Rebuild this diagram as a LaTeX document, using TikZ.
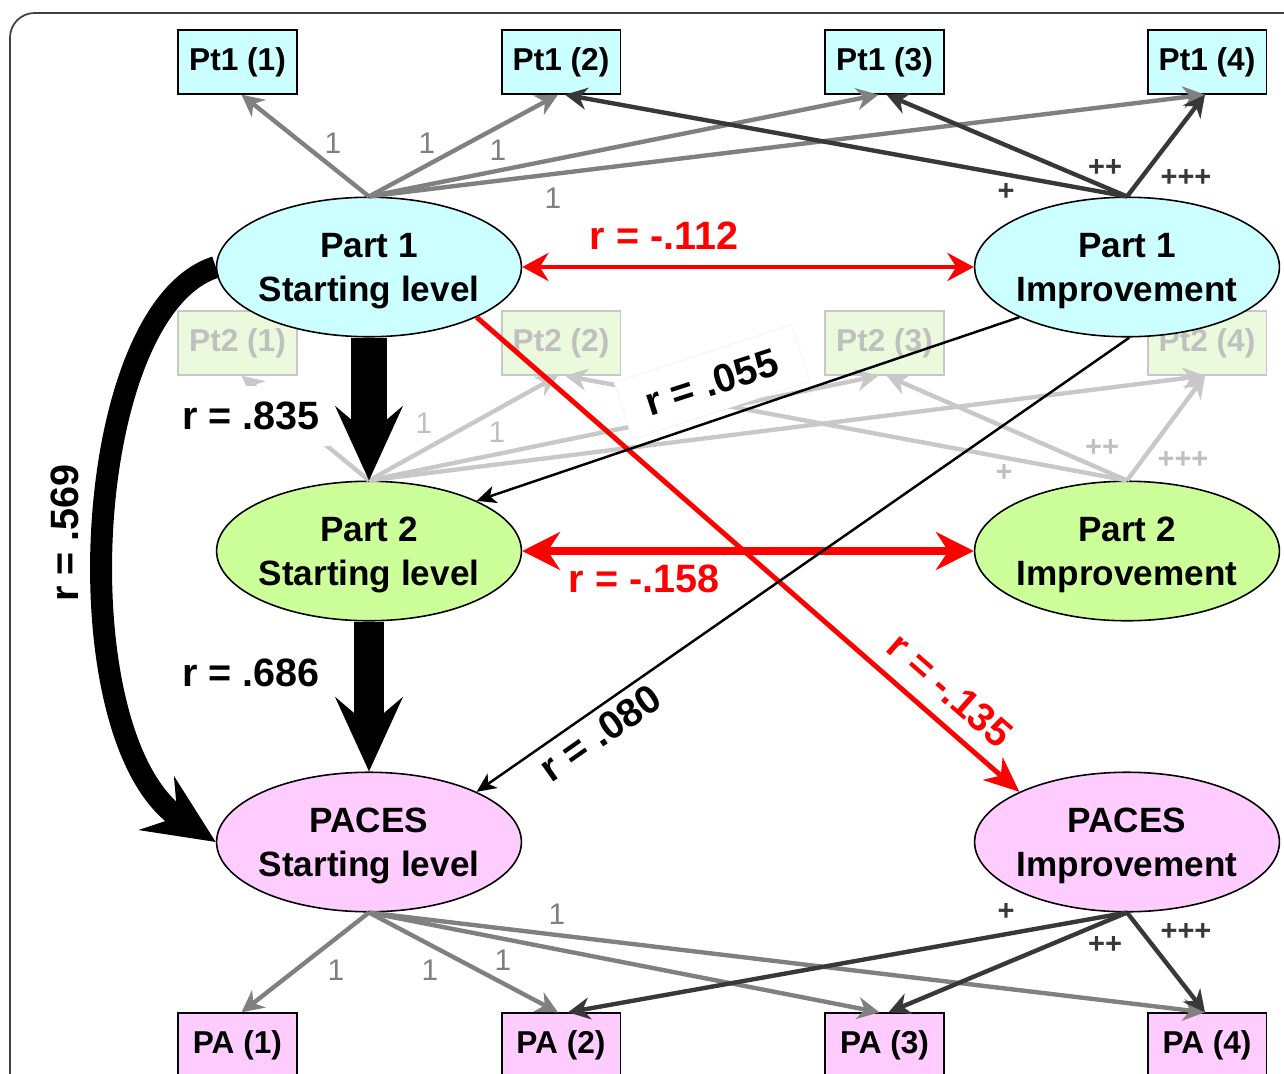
\documentclass[tikz,border=0pt]{standalone}
\usepackage{fontspec}
\setmainfont{Liberation Sans}
\usetikzlibrary{shapes.geometric,arrows.meta,calc}
\definecolor{cyanf}{HTML}{CCFFFF}
\definecolor{greenf}{HTML}{CCFF99}
\definecolor{pinkf}{HTML}{FFCCFF}
\definecolor{fadef}{HTML}{EBFADC}
\definecolor{fadeb}{HTML}{C8C8C8}
\definecolor{fadet}{HTML}{C0C0C0}
\definecolor{midg}{HTML}{808080}
\definecolor{darkg}{HTML}{383838}
\definecolor{redc}{HTML}{FF0000}
\begin{document}
\begin{tikzpicture}[x=0.02cm,y=-0.02cm,
 box/.style={draw, line width=0.9pt, minimum width=67.5pt, minimum height=36.3pt, inner sep=0pt, font=\fontsize{18}{20}\selectfont\bfseries},
 fbox/.style={box, draw=fadeb, fill=fadef, text=fadet},
 ell/.style={ellipse, draw, line width=0.9pt, minimum width=173.5pt, minimum height=79.4pt, inner sep=0pt},
 etext/.style={align=center, font=\fontsize{20}{25}\selectfont\bfseries, inner sep=0pt},
 rlab/.style={font=\fontsize{22.5}{26}\selectfont\bfseries, inner sep=2pt},
 one/.style={font=\fontsize{17}{20}\selectfont, text=midg, inner sep=0pt},
 fone/.style={one, text=fadet},
 plus/.style={font=\fontsize{16.5}{20}\selectfont\bfseries, text=darkg, inner sep=0pt},
 fplus/.style={plus, text=fadet},
 sm/.style={-{Stealth[length=12.5pt,width=12.5pt,inset=4pt]}, line width=2.5pt},
 ga/.style={sm, draw=midg},
 da/.style={sm, draw=darkg},
 fa/.style={sm, draw=fadeb},
 blk/.style={-{Stealth[length=11pt,width=10pt,inset=3pt]}, line width=1.4pt, draw=black},
 fat/.style={-{Stealth[length=42pt,width=38pt,inset=16pt]}, draw=black},
 redtip/.tip={Stealth[length=15pt,width=16pt,inset=5pt]},
 bigredtip/.tip={Stealth[length=21.5pt,width=21.5pt,inset=7pt]},
]
\useasboundingbox (0,0) rectangle (1284,1073);
\clip (0,0) rectangle (1284,1073);
% frame
\draw[line width=1pt, draw=black!75, rounded corners=14] (10,1100) -- (10,13) -- (1300,13);

% boxes
\node[box, fill=cyanf] (t1) at (237.5,62) {Pt1 (1)};
\node[box, fill=cyanf] (t2) at (561,62) {Pt1 (2)};
\node[box, fill=cyanf] (t3) at (884.5,62) {Pt1 (3)};
\node[box, fill=cyanf] (t4) at (1207,62) {Pt1 (4)};
\node[fbox] (m1) at (237.5,343) {Pt2 (1)};
\node[fbox] (m2) at (561,343) {Pt2 (2)};
\node[fbox] (m3) at (884.5,343) {Pt2 (3)};
\node[fbox] (m4) at (1207,343) {Pt2 (4)};
\node[box, fill=pinkf] (b1) at (237.5,1045) {PA (1)};
\node[box, fill=pinkf] (b2) at (561,1045) {PA (2)};
\node[box, fill=pinkf] (b3) at (884.5,1045) {PA (3)};
\node[box, fill=pinkf] (b4) at (1207,1045) {PA (4)};

% ellipses
\node[ell, fill=cyanf] (p1s) at (369,267) {};
\node[etext] (p1st) at (369,271) {Part 1\\Starting level};
\node[ell, fill=cyanf] (p1i) at (1127,267) {};
\node[etext] (p1it) at (1127,271) {Part 1\\Improvement};
\node[ell, fill=greenf] (p2s) at (369,551) {};
\node[etext] (p2st) at (369,555) {Part 2\\Starting level};
\node[ell, fill=greenf] (p2i) at (1127,551) {};
\node[etext] (p2it) at (1127,555) {Part 2\\Improvement};
\node[ell, fill=pinkf] (pcs) at (369,842) {};
\node[etext] (pcst) at (369,846) {PACES\\Starting level};
\node[ell, fill=pinkf] (pci) at (1127,842) {};
\node[etext] (pcit) at (1127,846) {PACES\\Improvement};

% faded Part 2 indicators
\draw[fa] (p2s.north) -- ($(m1.south)+(4,0)$);
\draw[fa] (p2s.north) -- ($(m2.south)+(-3,0)$);
\draw[fa] (p2s.north) -- ($(m3.south)+(-6,0)$);
\draw[fa] (p2s.north) -- ($(m4.south)+(-2,0)$);
\draw[fa] (p2i.north) -- ($(m2.south)+(4,0)$);
\draw[fa] (p2i.north) -- ($(m3.south)+(2,0)$);
\draw[fa] (p2i.north) -- ($(m4.south)+(-2,0)$);
\node[fone] (f1a) at (424,423) {1};
\node[fone] (f1b) at (497,432) {1};
\node[fplus] (fpa) at (1004,473) {+};
\node[fplus] (fpb) at (1102,448) {++};
\node[fplus] (fpc) at (1183,460) {+++};

\node[rlab, fill=white, inner xsep=6pt, inner ysep=9pt] (r835) at (251,416) {r = .835};
\node[rlab, rotate=18, fill=white, draw=black!5, inner xsep=14pt, inner ysep=9pt] (r055) at (712,382) {r = .055};

% Part 1 indicators
\draw[ga] (p1s.north) -- ($(t1.south)+(4,0)$);
\draw[ga] (p1s.north) -- ($(t2.south)+(-3,0)$);
\draw[ga] (p1s.north) -- ($(t3.south)+(-6,0)$);
\draw[ga] (p1s.north) -- ($(t4.south)+(-2,0)$);
\draw[da] (p1i.north) -- ($(t2.south)+(4,0)$);
\draw[da] (p1i.north) -- ($(t3.south)+(2,0)$);
\draw[da] (p1i.north) -- ($(t4.south)+(-2,0)$);
\node[one] (o1a) at (333,143) {1};
\node[one] (o1b) at (427,143) {1};
\node[one] (o1c) at (498,150) {1};
\node[one] (o1d) at (553,198) {1};
\node[plus] (ppa) at (1006,192) {+};
\node[plus] (ppb) at (1105,168) {++};
\node[plus] (ppc) at (1186,178) {+++};

% PACES indicators
\draw[ga] (pcs.south) -- ($(b1.north)+(4,0)$);
\draw[ga] (pcs.south) -- ($(b2.north)+(-3,0)$);
\draw[ga] (pcs.south) -- ($(b3.north)+(-5,0)$);
\draw[ga] (pcs.south) -- ($(b4.north)+(-2,0)$);
\draw[da] (pci.south) -- ($(b2.north)+(7,0)$);
\draw[da] (pci.south) -- ($(b3.north)+(4,0)$);
\draw[da] (pci.south) -- ($(b4.north)+(-2,0)$);
\node[one] (q1a) at (336,970) {1};
\node[one] (q1b) at (430,970) {1};
\node[one] (q1c) at (503,960) {1};
\node[one] (q1d) at (557,914) {1};
\node[plus] (qpa) at (1006,912) {+};
\node[plus] (qpb) at (1105,945) {++};
\node[plus] (qpc) at (1186,932) {+++};

% red correlations
\draw[redc, line width=2.8pt, redtip-redtip] (p1s.east) -- (p1i.west);
\draw[redc, line width=5pt, bigredtip-bigredtip] (p2s.east) -- (p2i.west);
\draw[redc, line width=2.8pt, -{Stealth[length=20pt,width=17pt,inset=6pt]}] (p1s.-25) -- (pci.155);

% black thin
\draw[blk] (p1i.205) -- (p2s.25);
\draw[blk] (p1i.-88) -- (pcs.25);

% thick arrows
\draw[fat, line width=20pt] (p1s.south) -- (p2s.north);
\draw[fat, line width=17pt] (p2s.south) -- (pcs.north);
\draw[-{Stealth[length=40pt,width=36pt,inset=14pt]}, line width=12.5pt] (p1s.west) .. controls (80,310) and (60,740) .. (pcs.west);

% labels
\node[rlab, text=redc] (r112) at (664,236) {r = -.112};
\node[rlab, text=redc] (r158) at (644,579) {r = -.158};
\node[rlab, text=redc, rotate=-41] (r135) at (950,690) {r = -.135};
\node[rlab] (r686) at (251,673) {r = .686};
\node[rlab, rotate=90] (r569) at (65,533) {r = .569};
\node[rlab, rotate=35] (r080) at (600,733) {r = .080};
\end{tikzpicture}
\end{document}
